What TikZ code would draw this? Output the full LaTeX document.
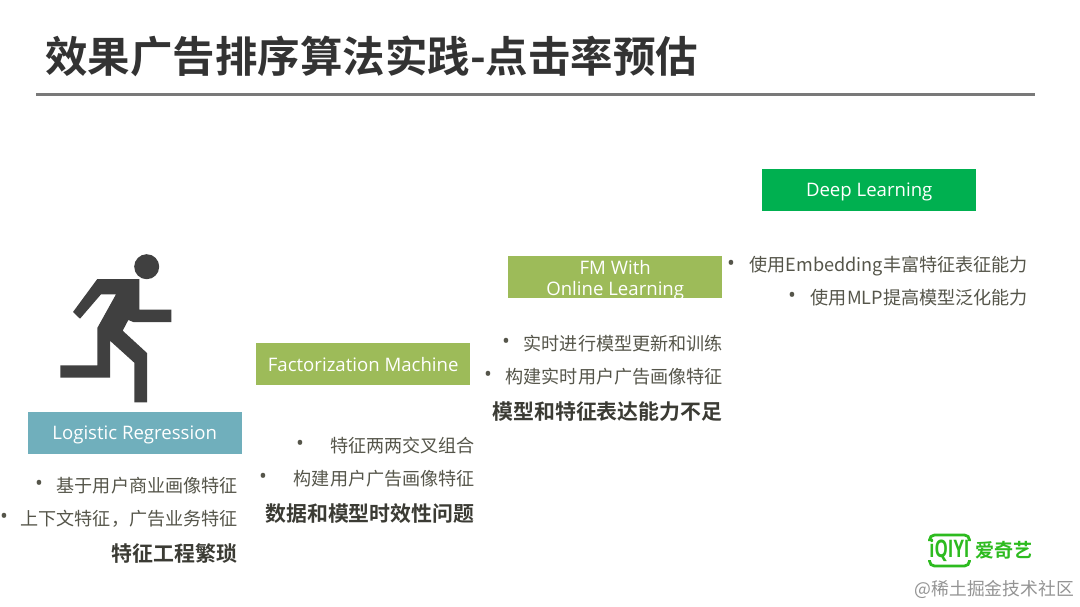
\documentclass[tikz,border=0pt]{standalone}
\usepackage{fontspec}
\setmainfont{Open Sans}
\newfontfamily\cjk{Noto Sans CJK SC}
\newfontfamily\cjkb{Noto Sans CJK SC Bold}
\definecolor{txt}{HTML}{55554A}
\definecolor{dark}{HTML}{333333}
\definecolor{lr}{HTML}{70AFBC}
\definecolor{fm}{HTML}{9DBB59}
\definecolor{dl}{HTML}{00B050}
\definecolor{runner}{HTML}{404040}
\definecolor{logo}{HTML}{2DBB1F}
\newcommand{\dnstrut}{\rule{0pt}{18pt}}
\tikzset{
 x=1pt,y=-1pt,
 box/.style={fill=#1,text=white,minimum width=214pt,minimum height=42pt,inner sep=0pt,align=center,font=\fontsize{18.6}{21.5}\selectfont},
 item/.style={anchor=east,inner sep=0pt,text=txt,font=\fontsize{18.1}{20}\selectfont\cjk},
 conc/.style={anchor=east,inner sep=0pt,text=txt!70!black,font=\fontsize{20.9}{24}\selectfont\cjkb},
 dotm/.style={inner sep=0pt,text=txt,font=\fontsize{21}{20}\selectfont},
}
\begin{document}
\begin{tikzpicture}
\useasboundingbox (0,0) rectangle (1080,606);
\fill[white] (0,0) rectangle (1080,606);
\node[anchor=west,inner sep=0pt,text=dark,font=\fontsize{42.5}{48}\selectfont\cjkb] (title) at (45,56) {效果广告排序算法实践-点击率预估};
\coordinate (ruleL) at (36,94);
\coordinate (ruleR) at (1035,94);
\draw[line width=3pt,color=gray!95!black] (ruleL) -- (ruleR);
% runner
\fill[runner] (146.7,266.7) circle (12.5);
\fill[runner] (97.3,279) -- (139.3,279) -- (139.3,309.7) -- (171.3,309.7) -- (171.3,322) -- (133.3,322) -- (128.3,320) -- (122.7,330.7) -- (147,353) -- (147,402.3) -- (134.3,402.3) -- (134.3,362.7) -- (110,340.7) -- (110,377.7) -- (60.3,377.7) -- (60.3,365.3) -- (97.3,365.3) -- (97.3,328) -- (116,294.3) -- (101,294.3) -- (80,318.7) -- (73,312) -- cycle;
% boxes
\node[box=lr,anchor=north west] (lrbox) at (27.5,412) {\dnstrut Logistic Regression};
\node[box=fm,anchor=north west] (fmbox) at (256,343) {Factorization Machine};
\node[box=fm,anchor=north west] (olbox) at (508,256) {\rule{0pt}{15.5pt}FM With\\\smash{Online Learning}};
\node[box=dl,anchor=north west] (dlbox) at (762,169) {\dnstrut Deep Learning};
% LR text
\node[dotm] (d1) at (39,485) {•};
\node[item] (t1) at (238,486) {基于用户商业画像特征};
\node[dotm] (d2) at (4,518) {•};
\node[item] (t2) at (238,519) {上下文特征，广告业务特征};
\node[conc] (c1) at (237.5,554) {特征工程繁琐};
% FM text
\node[dotm] (d3) at (300,445) {•};
\node[item] (t3) at (475,446) {特征两两交叉组合};
\node[dotm] (d4) at (263,478) {•};
\node[item] (t4) at (475,479) {构建用户广告画像特征};
\node[conc] (c2) at (474.5,514) {数据和模型时效性问题};
% OL text
\node[dotm] (d5) at (506,343) {•};
\node[item] (t5) at (723,344) {实时进行模型更新和训练};
\node[dotm] (d6) at (488,376) {•};
\node[item] (t6) at (723,377) {构建实时用户广告画像特征};
\node[conc] (c3) at (722.5,412) {模型和特征表达能力不足};
% DL text
\node[dotm] (d7) at (731,265) {•};
\node[item] (t7) at (1028,266) {使用Embedding丰富特征表征能力};
\node[dotm] (d8) at (792,297) {•};
\node[item] (t8) at (1028,298) {使用MLP提高模型泛化能力};
% logo
\draw[logo,line width=2.8pt,rounded corners=5pt] (929.5,541) -- (929.5,535) -- (969.5,535) -- (969.5,541);
\draw[logo,line width=2.8pt,rounded corners=5pt] (929.5,560) -- (929.5,566) -- (969.5,566) -- (969.5,560);
\node[text=logo,inner sep=0pt,xscale=.8,yscale=1.15,font=\fontsize{21}{22}\bfseries\selectfont] (iq) at (949.5,550.5) {iQIYI};
\node[text=logo,anchor=west,inner sep=0pt,font=\fontsize{19}{20}\selectfont\cjkb] (aqy) at (975,550.5) {爱奇艺};
\node[anchor=east,inner sep=0pt,text=black!42,font=\fontsize{17.8}{20}\selectfont\cjk] (wm) at (1074,589) {@稀土掘金技术社区};
\end{tikzpicture}
\end{document}
